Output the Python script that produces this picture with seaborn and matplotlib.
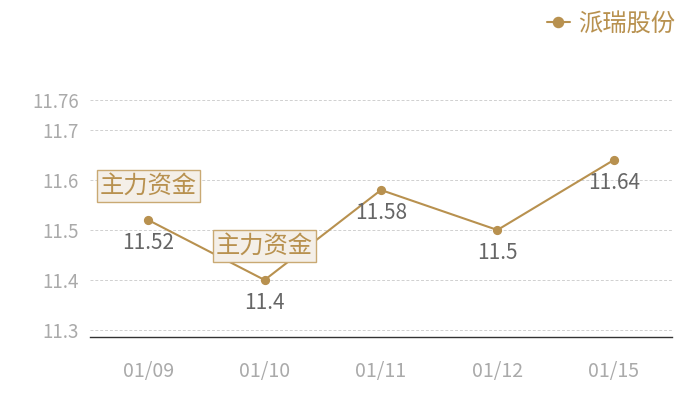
import matplotlib
matplotlib.use('Agg')
import matplotlib.pyplot as plt
import seaborn as sns
import pandas as pd

# data
dates = ['01/09', '01/10', '01/11', '01/12', '01/15']
prices = [11.52, 11.4, 11.58, 11.5, 11.64]
series_name = '派瑞股份'
note_text = '主力资金'
note_dates = ['01/09', '01/10']
note_values = [11.588, 11.468]
y_ticks = [11.3, 11.4, 11.5, 11.6, 11.7, 11.76]

gold = '#b8914f'

sns.set_theme(style='white')
plt.rcParams['font.family'] = ['Noto Sans CJK SC', 'DejaVu Sans']

df = pd.DataFrame({'date': dates, 'price': prices})

fig = plt.figure(figsize=(7, 4), dpi=100)
ax = fig.add_axes([90 / 700, 63 / 400, 582 / 700, 237 / 400])

sns.pointplot(data=df, x='date', y='price', color=gold, ax=ax,
              markersize=5.5, linewidth=1.5, label=series_name)

ax.set_xlim(-0.5, len(dates) - 0.5)
ax.set_ylim(min(prices) * 0.99, max(prices) * 1.01)
ax.set_yticks(y_ticks)
ax.set_yticklabels([f'{v:g}' for v in y_ticks])
ax.grid(axis='y', color='#d0d0d0', linestyle=(0, (3, 2)), linewidth=0.7)
ax.set_xlabel('')
ax.set_ylabel('')
ax.tick_params(axis='both', length=0, colors='#aaaaaa')
ax.tick_params(axis='x', labelsize=14, pad=17)
ax.tick_params(axis='y', labelsize=13.5, pad=8)
for side in ['top', 'right', 'left']:
    ax.spines[side].set_visible(False)
ax.spines['bottom'].set_color('#333333')
ax.spines['bottom'].set_linewidth(1)

# value labels under the points
for i, v in enumerate(prices):
    ax.annotate(f'{v:g}', (i, v), xytext=(0, -16.5), textcoords='offset points',
                ha='center', va='center', fontsize=15, color='#666666')

# "主力资金" notes
for d, v in zip(note_dates, note_values):
    ax.text(dates.index(d), v, note_text, ha='center', va='center',
            fontsize=17.5, color=gold,
            bbox=dict(boxstyle='square,pad=0.12', facecolor='#f4efe8',
                      edgecolor='#c9a973', linewidth=1))

leg = ax.legend(loc='upper right', bbox_to_anchor=(1.043, 1.47), frameon=False,
                fontsize=17.5, handlelength=0.95, handletextpad=0.35,
                markerscale=1.3, labelcolor=gold)

fig.savefig('out.png', dpi=100)
